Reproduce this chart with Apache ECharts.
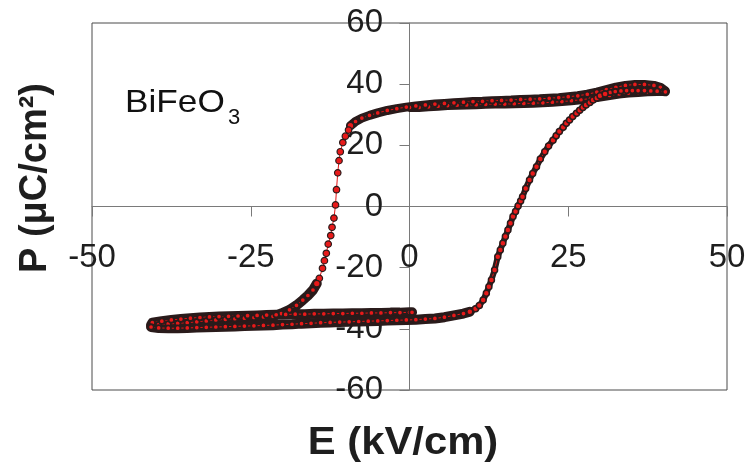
<!DOCTYPE html>
<html>
<head>
<meta charset="utf-8">
<script src="https://cdn.jsdelivr.net/npm/echarts@6/dist/echarts.min.js"></script>
<style>
  html, body { margin: 0; padding: 0; background: #fff; }
  #chart { width: 749px; height: 465px; }
</style>
</head>
<body>
<div id="chart"></div>
<script>
// P-E hysteresis loop of BiFeO3 (E in kV/cm, P in uC/cm2)

// first quarter: 0 -> +Emax (inner track of the top band)
const poleE = [0, 1.5, 3, 4.5, 6, 7.5, 9, 10.5, 12, 13.5, 15, 16.5, 18, 19.5, 21, 22.5, 24, 25.5, 27, 28.5, 30, 31.5, 33, 34.5, 36, 37.5, 39, 40.3];
const poleP = [32.4, 32.4, 32.6, 32.8, 33.0, 33.1, 33.2, 33.3, 33.4, 33.5, 33.5, 33.6, 33.7, 33.8, 33.9, 34.1, 34.3, 34.6, 34.9, 35.3, 35.8, 36.3, 36.8, 37.1, 37.3, 37.5, 37.6, 37.8];

// +Emax back down along the outer track
const upperE = [40.3, 39.5, 38.5, 37, 35.5, 34, 32.5, 31, 29.5, 28, 26.5, 25, 23.5, 22, 20.5, 19, 17.5, 16, 14.5, 13, 11.5, 10, 8.5, 7, 5.5, 4, 2.5, 1, -0.5, -2, -3.5, -5, -6.3, -7.5, -8.5, -9.3];
const upperP = [37.8, 39.0, 39.6, 39.9, 39.9, 39.6, 39.0, 38.2, 37.4, 36.7, 36.2, 35.9, 35.6, 35.4, 35.2, 35.1, 35.0, 34.8, 34.7, 34.6, 34.4, 34.3, 34.1, 33.9, 33.7, 33.5, 33.2, 32.9, 32.5, 32.0, 31.4, 30.6, 29.8, 28.9, 27.8, 26.4];

// switching down (sparse points)
const downE = [-9.6, -10.1, -10.5, -10.9, -11.1, -11.3, -11.5, -11.65, -11.9, -12.2, -12.4, -12.8, -13.1, -13.4, -13.7, -14.2];
const downP = [25.0, 23.0, 20.9, 17.9, 15.0, 11.0, 5.5, 0.5, -3.8, -6.8, -9.5, -12.3, -15.3, -17.7, -20.2, -23.5];

// knee into negative saturation, out to -Emax
const negE = [-14.6, -15.2, -16.0, -16.8, -17.8, -18.9, -20.2, -21.5, -23, -24.5, -26, -27.5, -29, -30.5, -32, -33.5, -35, -36.5, -38, -39.5, -40.7];
const negP = [-25.2, -27.3, -29.1, -30.6, -32.3, -33.8, -35.0, -35.9, -36.1, -36.3, -36.5, -36.7, -36.9, -37.1, -37.4, -37.7, -38.0, -38.2, -38.4, -38.6, -38.8];

// -Emax back to zero (top of the lower band)
const backE = [-40.5, -39, -37.5, -36, -34.5, -33, -31.5, -30, -28.5, -27, -25.5, -24, -22.5, -21, -19.5, -18, -16.5, -15, -13.5, -12, -10.5, -9, -7.5, -6, -4.5, -3, -1.5, 0, 0.4];
const backP = [-38.0, -37.5, -37.1, -36.8, -36.5, -36.3, -36.1, -36.0, -35.9, -35.8, -35.7, -35.6, -35.5, -35.4, -35.3, -35.2, -35.2, -35.1, -35.1, -35.0, -35.0, -34.9, -34.9, -34.8, -34.8, -34.7, -34.7, -34.6, -34.6];

// second sweep: -Emax -> +Emax (bottom of the lower band, then switching up)
const bottomE = [-40.7, -39.5, -38, -36.5, -35, -33.5, -32, -30.5, -29, -27.5, -26, -24.5, -23, -21.5, -20, -18.5, -17, -15.5, -14, -12.5, -11, -9.5, -8, -6.5, -5, -3.5, -2, -0.5, 1, 2.5, 4, 5.5, 7, 8.5, 9.5];
const bottomP = [-39.4, -39.7, -39.8, -39.8, -39.7, -39.6, -39.5, -39.4, -39.3, -39.2, -39.1, -39.0, -38.9, -38.8, -38.6, -38.5, -38.3, -38.2, -38.0, -37.9, -37.8, -37.7, -37.6, -37.5, -37.4, -37.3, -37.2, -37.1, -37.0, -36.8, -36.6, -36.2, -35.6, -35.0, -34.4];

const riseE = [10.4, 11.0, 11.6, 12.1, 12.5, 12.9, 13.4, 13.9, 14.3, 14.7, 15.1, 15.5, 15.9, 16.3, 16.7, 17.1, 17.5, 17.8, 18.3, 18.9, 19.4, 20.0, 20.6, 21.3, 21.9, 22.6, 23.1, 23.6, 24.2, 24.7, 25.2, 25.7, 26.3, 26.8, 27.3, 27.8, 28.4, 28.9, 29.5, 30.0];
const riseP = [-33.4, -32.4, -30.6, -28.4, -26.2, -24.0, -20.8, -16.4, -14.2, -12.0, -9.8, -7.7, -5.5, -3.3, -1.6, 0.2, 1.8, 3.2, 5.9, 8.7, 10.8, 13.0, 15.5, 17.9, 19.8, 21.7, 23.1, 24.5, 25.9, 27.2, 28.3, 29.4, 30.5, 31.5, 32.4, 33.2, 34.0, 34.8, 35.5, 36.2];

const tipE = [30.8, 31.6, 32.4, 33.3, 34.2, 35.1, 36, 37, 38, 39, 40, 40.3];
const tipP = [36.8, 37.3, 37.6, 37.8, 37.9, 37.9, 37.9, 37.9, 37.8, 37.7, 37.6, 37.5];

const xTicks = { min: -50, max: 50, step: 25 };
const yTicks = { min: -60, max: 60, step: 20 };

const FONT = '"Liberation Sans", Arial, sans-serif';
const DARK = '#2a1b1b';

function pts(es, ps) {
  return es.map((e, i) => [e, ps[i]]);
}
const pole = pts(poleE, poleP), upper = pts(upperE, upperP), down = pts(downE, downP);
const neg = pts(negE, negP), back = pts(backE, backP);
const bottom = pts(bottomE, bottomP), rise = pts(riseE, riseP), tip = pts(tipE, tipP);

// dense stretches read as a dark band with red specks
function band(data, w) {
  return {
    type: 'line', data: data, showSymbol: false, silent: true, z: 1,
    lineStyle: { color: DARK, width: w, cap: 'round', join: 'round' }
  };
}
function dots(data, size, border, lineW) {
  return {
    type: 'line', data: data, z: 2,
    symbol: 'circle', symbolSize: size, showSymbol: true,
    itemStyle: { color: '#e81a1a', borderColor: DARK, borderWidth: border },
    lineStyle: { color: '#e31515', width: lineW }
  };
}

const chart = echarts.init(document.getElementById('chart'), null, { renderer: 'canvas' });

chart.setOption({
  animation: false,
  backgroundColor: '#fff',
  grid: { left: 92, right: 22, top: 23, bottom: 75, show: true, borderColor: '#4a4a4a', borderWidth: 1 },
  xAxis: {
    type: 'value', min: xTicks.min, max: xTicks.max, interval: xTicks.step,
    axisLine: { onZero: true, lineStyle: { color: '#7a7a7a', width: 1 } },
    axisTick: { length: 10, lineStyle: { color: '#7a7a7a' } },
    // labels sit just under the zero line, not under the frame
    axisLabel: { margin: -149, fontSize: 33, color: '#1e1e1e', fontFamily: FONT },
    splitLine: { show: false }
  },
  yAxis: {
    type: 'value', min: yTicks.min, max: yTicks.max, interval: yTicks.step,
    axisLine: { onZero: true, lineStyle: { color: '#7a7a7a', width: 1 } },
    axisTick: { length: 10, lineStyle: { color: '#7a7a7a' } },
    axisLabel: { margin: -291, fontSize: 33, color: '#1e1e1e', fontFamily: FONT },
    splitLine: { show: false }
  },
  graphic: [
    {
      type: 'text', x: 36, y: 178, rotation: Math.PI / 2,
      style: { text: 'P (μC/cm²)', fill: '#1e1e1e', font: 'bold 38px ' + FONT, align: 'center', verticalAlign: 'middle' }
    },
    {
      type: 'text', x: 403, y: 444, scaleX: 1.1,
      style: { text: 'E (kV/cm)', fill: '#1e1e1e', font: 'bold 38px ' + FONT, align: 'center', verticalAlign: 'middle' }
    },
    {
      type: 'text', x: 125, y: 103, scaleX: 1.1,
      style: { text: 'BiFeO', fill: '#111', font: '32px ' + FONT, align: 'left', verticalAlign: 'middle' }
    },
    {
      type: 'text', x: 228, y: 118,
      style: { text: '3', fill: '#111', font: '22px ' + FONT, align: 'left', verticalAlign: 'middle' }
    }
  ],
  series: [
    band(pole.concat(upper), 9),
    band(neg.concat(back), 10),
    band(bottom, 10),
    band([bottom[bottom.length - 1]].concat(rise, [tip[0]]), 6),
    band(tip, 9),
    dots(pole.concat(upper), 5.5, 1.8, 1),
    dots(neg.concat(back), 5.5, 1.8, 1),
    dots(bottom, 5.5, 1.8, 1),
    dots(tip, 5.5, 1.8, 1),
    dots([bottom[bottom.length - 1]].concat(rise, [tip[0]]), 6, 1.5, 1),
    dots([upper[upper.length - 1]].concat(down, [neg[0]]), 6.5, 1.2, 1)
  ]
});
</script>
</body>
</html>
